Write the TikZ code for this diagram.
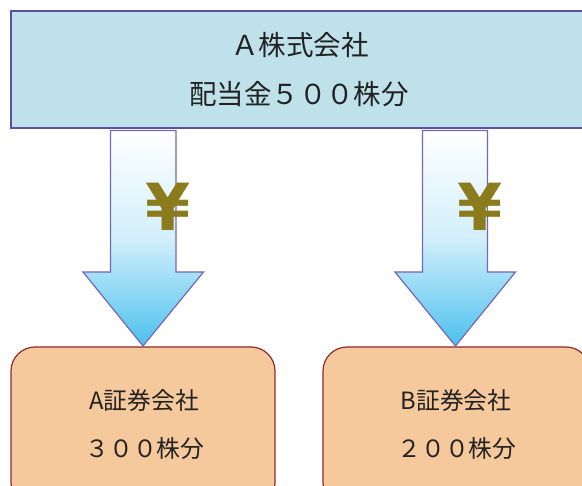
\documentclass[tikz,border=0pt]{standalone}
\usepackage{fontspec}
\newfontfamily\cjk{Noto Sans CJK JP}
\newfontfamily\yenfont{DejaVu Sans}
\definecolor{topfill}{HTML}{BFE1EA}
\definecolor{topline}{HTML}{5E4FA2}
\definecolor{arrline}{HTML}{7468B6}
\definecolor{arrblue}{HTML}{4CC0EE}
\definecolor{yencol}{HTML}{8B7B1D}
\definecolor{boxfill}{HTML}{F6C99D}
\definecolor{boxline}{HTML}{8B2B2B}
\definecolor{txt}{HTML}{222222}
\tikzset{
  topbox/.style={draw=topline, line width=1.3pt, fill=topfill},
  botbox/.style={draw=boxline, line width=1.2pt, fill=boxfill, rounded corners=24pt},
  bigarrow/.style={draw=arrline, line width=1.2pt, top color=white, bottom color=arrblue, middle color=arrblue!25!white},
  toptext/.style={font=\cjk\fontsize{27.5}{27.5}\selectfont, text=txt, inner sep=0pt},
  bottext/.style={font=\cjk\fontsize{23.8}{23.8}\selectfont, text=txt, inner sep=0pt},
  yen/.style={font=\yenfont\bfseries\fontsize{65}{65}\selectfont, text=yencol, inner sep=0pt}
}
\begin{document}
\begin{tikzpicture}[x=1pt,y=-1pt]
\useasboundingbox (0,0) rectangle (582,486);
% top box
\node[topbox, minimum width=579pt, minimum height=117pt, inner sep=0pt] (top) at (300.5,69.5) {};
\node[toptext] (t1) at (300,45) {Ａ株式会社};
\node[toptext] (t2) at (299,94) {配当金５００株分};
% bottom boxes
\node[botbox, minimum width=264pt, minimum height=160pt, inner sep=0pt] (boxA) at (143,427) {};
\node[botbox, minimum width=267pt, minimum height=160pt, inner sep=0pt] (boxB) at (456.5,427) {};
\node[bottext] (a1) at (144,400) {A証券会社};
\node[bottext] (a2) at (145,449) {３００株分};
\node[bottext] (b1) at (456,400) {B証券会社};
\node[bottext] (b2) at (457,449) {２００株分};
% arrows
\path[bigarrow] (110.5,130.5) -- (176,130.5) -- (176,272) -- (203.5,272) -- (143,346) -- (83,272) -- (110.5,272) -- cycle;
\path[bigarrow] (422.5,130.5) -- (487.5,130.5) -- (487.5,272) -- (515.5,272) -- (455.5,346) -- (395,272) -- (422.5,272) -- cycle;
\node[yen] (y1) at (168,207) {¥};
\node[yen] (y2) at (480,207) {¥};
\end{tikzpicture}
\end{document}
